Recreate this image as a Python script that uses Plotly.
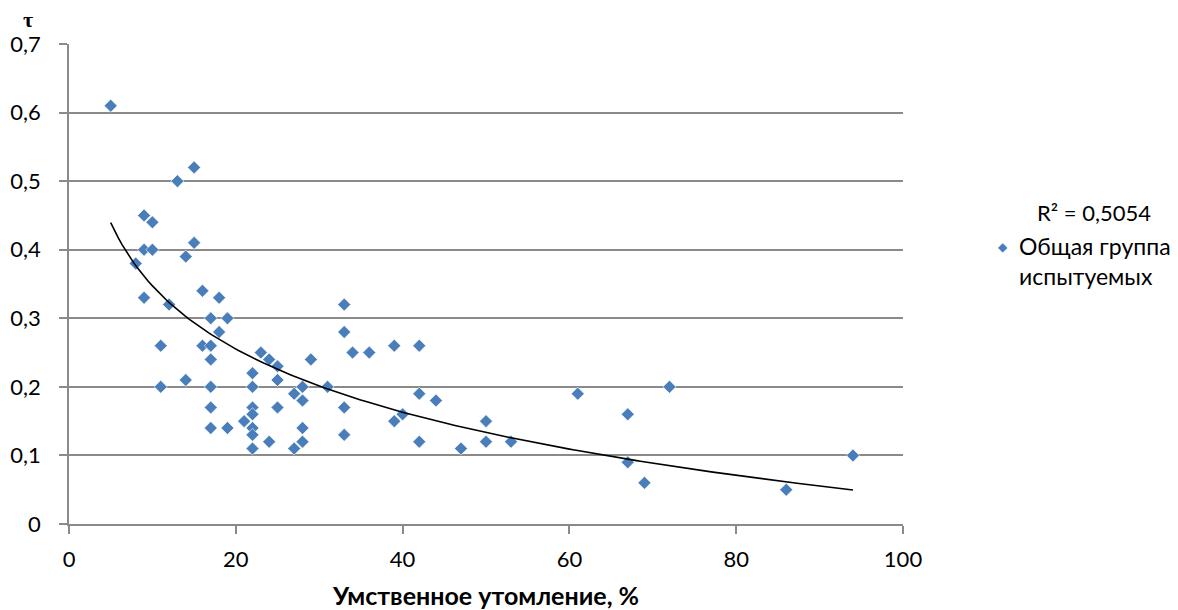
import numpy as np
import plotly.graph_objects as go

# Mental fatigue, % (x) and tau (y)
fatigue = [5, 15, 13, 9, 10, 9, 10, 15, 14, 8,
           9, 12, 16, 18, 17, 19, 18, 11, 16, 17,
           17, 23, 24, 25, 29, 33, 33, 34, 22, 14,
           11, 17, 22, 25, 28, 31, 27, 28, 17, 22,
           22, 21, 25, 33, 17, 19, 22, 22, 28, 33,
           24, 28, 22, 27, 36, 39, 42, 42, 44, 39,
           40, 42, 47, 50, 50, 53, 61, 67, 67, 69,
           72, 86, 94]
tau = [0.61, 0.52, 0.50, 0.45, 0.44, 0.40, 0.40, 0.41, 0.39, 0.38,
       0.33, 0.32, 0.34, 0.33, 0.30, 0.30, 0.28, 0.26, 0.26, 0.26,
       0.24, 0.25, 0.24, 0.23, 0.24, 0.32, 0.28, 0.25, 0.22, 0.21,
       0.20, 0.20, 0.20, 0.21, 0.20, 0.20, 0.19, 0.18, 0.17, 0.17,
       0.16, 0.15, 0.17, 0.17, 0.14, 0.14, 0.14, 0.13, 0.14, 0.13,
       0.12, 0.12, 0.11, 0.11, 0.25, 0.26, 0.26, 0.19, 0.18, 0.15,
       0.16, 0.12, 0.11, 0.15, 0.12, 0.12, 0.19, 0.16, 0.09, 0.06,
       0.20, 0.05, 0.10]
x_ticks = [0, 20, 40, 60, 80, 100]
y_ticks = [0, 0.1, 0.2, 0.3, 0.4, 0.5, 0.6, 0.7]
y_tick_text = ["0", "0,1", "0,2", "0,3", "0,4", "0,5", "0,6", "0,7"]
series_name = "Общая группа<br>испытуемых"
r2_text = "R² = 0,5054"
x_title = "Умственное утомление, %"
y_title = "τ"

x = np.array(fatigue, dtype=float)
y = np.array(tau, dtype=float)
a, b = np.polyfit(np.log(x), y, 1)
xt = np.linspace(x.min(), x.max(), 200)
yt = a * np.log(xt) + b

FONT = "Lato"
BLUE = "#4A7EBB"
GRID = "#8A8A8A"

fig = go.Figure()
fig.add_trace(go.Scatter(x=x, y=y, mode="markers", name="data",
                         marker=dict(symbol="diamond", size=10, color=BLUE,
                                     line=dict(width=0.6, color="white")),
                         showlegend=False, cliponaxis=False))
fig.add_trace(go.Scatter(x=xt, y=yt, mode="lines",
                         line=dict(color="black", width=1.6),
                         showlegend=False))

fig.update_layout(
    width=1178, height=610,
    margin=dict(l=69, r=275, t=44, b=86, autoexpand=False),
    paper_bgcolor="white", plot_bgcolor="white",
    font=dict(family=FONT, size=22, color="black"),
    xaxis=dict(range=[0, 100], tickvals=x_ticks, showgrid=False,
               showline=True, linecolor=GRID, linewidth=1.6,
               ticks="outside", ticklen=8, tickcolor=GRID, tickwidth=1.6,
               ticklabelstandoff=7, zeroline=False,
               title=dict(text="<b>" + x_title + "</b>", standoff=17,
                          font=dict(family=FONT, size=25))),
    yaxis=dict(range=[0, 0.7], tickvals=y_ticks, ticktext=y_tick_text,
               showgrid=True, gridcolor=GRID, gridwidth=1.6,
               showline=True, linecolor=GRID, linewidth=1.6,
               ticks="outside", ticklen=8, tickcolor=GRID, tickwidth=1.6,
               ticklabelstandoff=14, zeroline=False),
)

fig.add_annotation(text="<b>" + y_title + "</b>", xref="paper", yref="paper",
                   x=-0.049, y=1.052, xanchor="center", yanchor="middle",
                   showarrow=False,
                   font=dict(family="Liberation Serif", size=22, color="black"))
fig.add_annotation(text=r2_text, xref="paper", yref="paper",
                   x=1.2295, y=0.648, xanchor="center", yanchor="middle",
                   showarrow=False, font=dict(family=FONT, size=22))
fig.add_annotation(text="◆", xref="paper", yref="paper",
                   x=1.1205, y=0.577, xanchor="center", yanchor="middle",
                   showarrow=False, font=dict(family="DejaVu Sans", size=12, color=BLUE))
fig.add_annotation(text=series_name, xref="paper", yref="paper",
                   x=1.137, y=0.547, xanchor="left", yanchor="middle",
                   align="left", showarrow=False,
                   font=dict(family=FONT, size=23))

fig.write_html("out.html", post_script="document.body.style.margin='0';",
               config={"displayModeBar": False})
